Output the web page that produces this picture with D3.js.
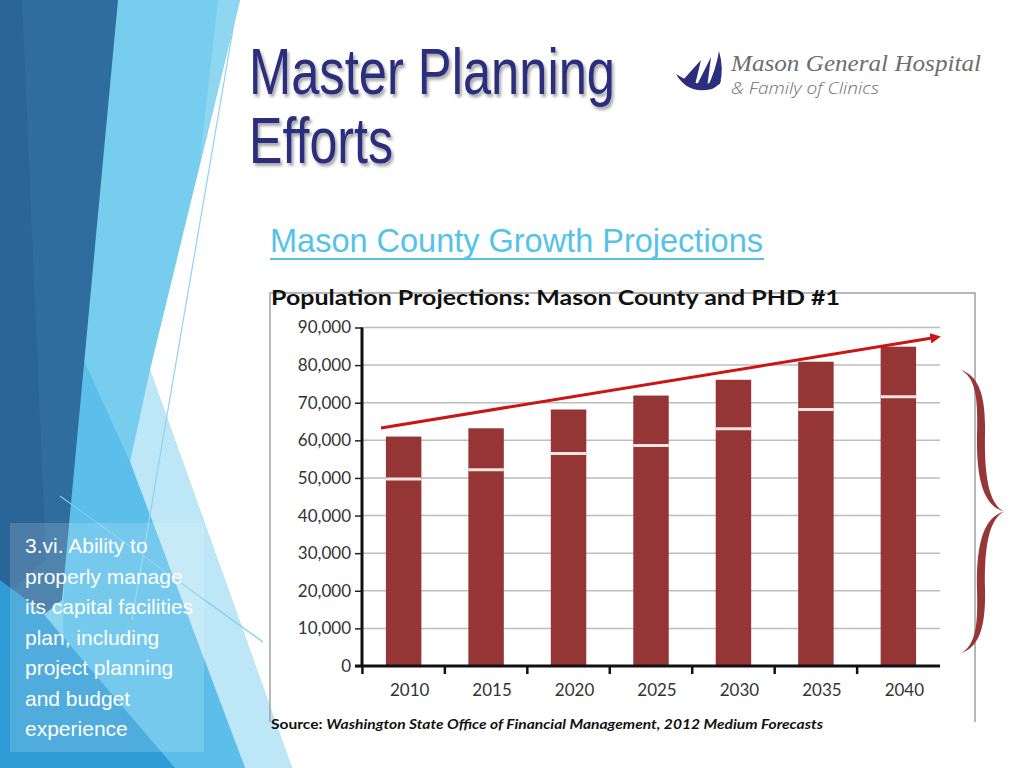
<!DOCTYPE html>
<html>
<head>
<meta charset="utf-8">
<script src="https://cdn.jsdelivr.net/npm/d3@7"></script>
<style>
  body { margin: 0; background: #fff; }
  svg { display: block; }
</style>
</head>
<body>
<svg id="slide" width="1024" height="768"></svg>
<script>
//// data
const years = ["2010", "2015", "2020", "2025", "2030", "2035", "2040"];
const countyPop = [61000, 63200, 68200, 71900, 76100, 80900, 84900];
const phdPop = [49700, 52200, 56500, 58600, 63100, 68200, 71600];
const yTicks = [0, 10000, 20000, 30000, 40000, 50000, 60000, 70000, 80000, 90000];
// trend arrow, start and end in band units / people
const trendX = [0.23, 6.96];
const trendY = [63300, 87400];
// brace on the right, top / bottom in people
const braceSpan = [78700, 3400];

const noteLines = ["3.vi. Ability to", "properly manage", "its capital facilities",
  "plan, including", "project planning", "and budget", "experience"];

const svg = d3.select("#slide");

//// background facets
const facets = [
  {fill: "#76cdee", pts: [[0,0],[240,0],[150,370],[292,768],[0,768]]},
  {fill: "#bde6f6", pts: [[150,370],[292,768],[245,768],[130,462]]},
  {fill: "#5bbfea", pts: [[70,330],[130,462],[245,768],[60,768]]},
  {fill: "#2e6d9e", pts: [[0,0],[118,0],[62,600],[0,650]]},
  {fill: "#2a6598", pts: [[0,0],[22,0],[46,560],[0,600]]},
  {fill: "#2f9cd7", pts: [[0,580],[40,610],[175,768],[0,768]]},
  {fill: "#8fd6f1", pts: [[218,0],[240,0],[200,160]]}
];
svg.append("g").selectAll("polygon")
  .data(facets)
  .join("polygon")
    .attr("points", d => d.pts.map(p => p.join(",")).join(" "))
    .attr("fill", d => d.fill);

svg.append("line").attr("x1", 238).attr("y1", 0).attr("x2", 132).attr("y2", 620)
  .attr("stroke", "#8fd4f0").attr("stroke-width", 1.2);
svg.append("line").attr("x1", 60).attr("y1", 496).attr("x2", 263).attr("y2", 642)
  .attr("stroke", "#7fcdee").attr("stroke-width", 1.2);

// note box
svg.append("rect").attr("x", 10).attr("y", 523).attr("width", 194).attr("height", 229)
  .attr("fill", "#fff").attr("opacity", 0.16);
svg.append("g").selectAll("text")
  .data(noteLines)
  .join("text")
    .attr("x", 25)
    .attr("y", (d, i) => 553 + i * 30.5)
    .attr("fill", "#fff")
    .attr("font-family", "Liberation Sans, Arial, sans-serif")
    .attr("font-size", 21)
    .text(d => d);

//// slide title
const defs = svg.append("defs");
const shadow = defs.append("filter").attr("id", "shadow").attr("x", "-10%").attr("y", "-10%")
  .attr("width", "130%").attr("height", "140%");
shadow.append("feDropShadow").attr("dx", 2).attr("dy", 3).attr("stdDeviation", 1.6)
  .attr("flood-color", "#000").attr("flood-opacity", 0.35);

const titleG = svg.append("g").attr("filter", "url(#shadow)")
  .attr("font-family", "Liberation Sans, Arial, sans-serif")
  .attr("font-size", 64).attr("fill", "#2b2e7c");
titleG.append("text").attr("x", 249).attr("y", 94)
  .attr("textLength", 366).attr("lengthAdjust", "spacingAndGlyphs").text("Master Planning");
titleG.append("text").attr("x", 249).attr("y", 163)
  .attr("textLength", 144).attr("lengthAdjust", "spacingAndGlyphs").text("Efforts");

//// logo
const logo = svg.append("g").attr("fill", "#2b2e7c");
logo.append("path").attr("d", "M676,74 Q688,95 712,89 Q719,86 721,80 L718,80 Q700,90 676,74 Z");
logo.append("path").attr("d", "M683,80 L701,60 L695,85 Z");
logo.append("path").attr("d", "M696,87 L711,57 L707,88 Z");
logo.append("path").attr("d", "M707,88 Q716,70 719,51 Q724,68 720,84 Z");
svg.append("text").attr("x", 731).attr("y", 71)
  .attr("font-family", "Liberation Serif, serif").attr("font-style", "italic")
  .attr("font-size", 23).attr("fill", "#6e6e6e")
  .attr("textLength", 250).attr("lengthAdjust", "spacingAndGlyphs")
  .text("Mason General Hospital");
svg.append("text").attr("x", 731).attr("y", 94)
  .attr("font-family", "Open Sans, sans-serif").attr("font-weight", 300).attr("font-style", "italic")
  .attr("font-size", 17).attr("fill", "#6e6e6e")
  .attr("textLength", 148).attr("lengthAdjust", "spacingAndGlyphs")
  .text("& Family of Clinics");

//// subtitle
svg.append("text").attr("x", 270).attr("y", 252)
  .attr("font-family", "Liberation Sans, Arial, sans-serif").attr("font-size", 34)
  .attr("fill", "#55c2ea")
  .attr("textLength", 493).attr("lengthAdjust", "spacingAndGlyphs")
  .text("Mason County Growth Projections");
svg.append("line").attr("x1", 270).attr("x2", 764).attr("y1", 259).attr("y2", 259)
  .attr("stroke", "#55c2ea").attr("stroke-width", 2);

//// chart frame
const frame = svg.append("g").attr("stroke", "#a0a0a0").attr("stroke-width", 1.5).attr("fill", "none");
frame.append("path").attr("d", "M270,722 V293 H975 V722");

svg.append("text").attr("x", 271).attr("y", 305)
  .attr("font-family", "Lato, sans-serif").attr("font-weight", 700)
  .attr("font-size", 20).attr("fill", "#111")
  .attr("textLength", 569).attr("lengthAdjust", "spacingAndGlyphs")
  .text("Population Projections:  Mason County and PHD #1");

//// scales
const plotLeft = 362, plotRight = 940, plotTop = 327.5, plotBottom = 666;
const x = d3.scaleBand().domain(years).range([plotLeft, plotRight])
  .paddingInner(0.57).paddingOuter(0.29);
const y = d3.scaleLinear().domain([0, 90000]).range([plotBottom, plotTop]);
const xUnit = d3.scaleLinear().domain([0, years.length]).range([plotLeft, plotRight]);

// gridlines
svg.append("g").selectAll("line")
  .data(yTicks.filter(t => t > 0))
  .join("line")
    .attr("x1", plotLeft).attr("x2", plotRight)
    .attr("y1", d => y(d)).attr("y2", d => y(d))
    .attr("stroke", "#bdbdbd").attr("stroke-width", 1.5);

// y axis
const yAxis = svg.append("g")
  .attr("transform", `translate(${plotLeft},0)`)
  .call(d3.axisLeft(y).tickValues(yTicks).tickSize(7).tickPadding(4)
    .tickFormat(d3.format(",")));
yAxis.select(".domain").remove();
yAxis.selectAll(".tick line").attr("stroke", "#222").attr("stroke-width", 1.5);
yAxis.selectAll(".tick text")
  .attr("font-family", "Lato, sans-serif").attr("font-size", 17).attr("fill", "#333");
svg.append("line").attr("x1", plotLeft).attr("x2", plotLeft)
  .attr("y1", plotTop).attr("y2", plotBottom + 1)
  .attr("stroke", "#111").attr("stroke-width", 3);

// bars
svg.append("g").selectAll("rect")
  .data(years)
  .join("rect")
    .attr("x", d => x(d))
    .attr("y", (d, i) => y(countyPop[i]))
    .attr("width", x.bandwidth())
    .attr("height", (d, i) => y(0) - y(countyPop[i]))
    .attr("fill", "#953535");

// PHD #1 marks
svg.append("g").selectAll("line")
  .data(years)
  .join("line")
    .attr("x1", d => x(d)).attr("x2", d => x(d) + x.bandwidth())
    .attr("y1", (d, i) => y(phdPop[i])).attr("y2", (d, i) => y(phdPop[i]))
    .attr("stroke", "#f6e6e2").attr("stroke-width", 3);

// x axis
const step = x.step();
svg.append("line").attr("x1", plotLeft - 7).attr("x2", plotRight)
  .attr("y1", plotBottom).attr("y2", plotBottom)
  .attr("stroke", "#111").attr("stroke-width", 3);
svg.append("g").selectAll("line")
  .data(years)
  .join("line")
    .attr("x1", d => x(d) + x.bandwidth() / 2 - step / 2)
    .attr("x2", d => x(d) + x.bandwidth() / 2 - step / 2)
    .attr("y1", plotBottom).attr("y2", plotBottom + 8)
    .attr("stroke", "#111").attr("stroke-width", 2.5);
svg.append("g").selectAll("text")
  .data(years)
  .join("text")
    .attr("x", d => x(d) + x.bandwidth() / 2 + 6)
    .attr("y", plotBottom + 30)
    .attr("text-anchor", "middle")
    .attr("font-family", "Lato, sans-serif").attr("font-size", 17).attr("fill", "#333")
    .text(d => d);

// source line
const src = svg.append("text").attr("x", 271).attr("y", 729)
  .attr("font-family", "Lato, sans-serif").attr("font-weight", 700)
  .attr("font-size", 14).attr("fill", "#111")
  .attr("textLength", 552).attr("lengthAdjust", "spacingAndGlyphs");
src.append("tspan").text("Source:  ");
src.append("tspan").attr("font-style", "italic")
  .text("Washington State Office of Financial Management, 2012 Medium Forecasts");

//// trend arrow
defs.append("marker").attr("id", "head")
  .attr("viewBox", "0 0 10 10").attr("refX", 6).attr("refY", 5)
  .attr("markerWidth", 3.5).attr("markerHeight", 3.5).attr("orient", "auto")
  .append("path").attr("d", "M0,0 L10,5 L0,10 Z").attr("fill", "#cc1414");
svg.append("line")
  .attr("x1", xUnit(trendX[0])).attr("y1", y(trendY[0]))
  .attr("x2", xUnit(trendX[1])).attr("y2", y(trendY[1]))
  .attr("stroke", "#cc1414").attr("stroke-width", 3)
  .attr("marker-end", "url(#head)");

//// brace
const bTop = y(braceSpan[0]), bBot = y(braceSpan[1]);
const bMid = (bTop + bBot) / 2, h = bMid - bTop;
const bx = plotRight + 21;
function halfBrace(s) {
  // s = +1 top half, -1 bottom half
  const yy = f => bMid - s * h * (1 - f);
  return `M${bx},${yy(0)}`
    + ` C${bx + 15},${yy(0.06)} ${bx + 17},${yy(0.2)} ${bx + 16},${yy(0.45)}`
    + ` C${bx + 15},${yy(0.8)} ${bx + 24},${yy(0.96)} ${bx + 43},${yy(1)}`
    + ` C${bx + 30},${yy(0.95)} ${bx + 23},${yy(0.8)} ${bx + 24},${yy(0.45)}`
    + ` C${bx + 25},${yy(0.15)} ${bx + 16},${yy(0.04)} ${bx},${yy(0)} Z`;
}
svg.append("g").selectAll("path")
  .data([1, -1])
  .join("path")
    .attr("d", d => halfBrace(d))
    .attr("fill", "#963637");
</script>
</body>
</html>
